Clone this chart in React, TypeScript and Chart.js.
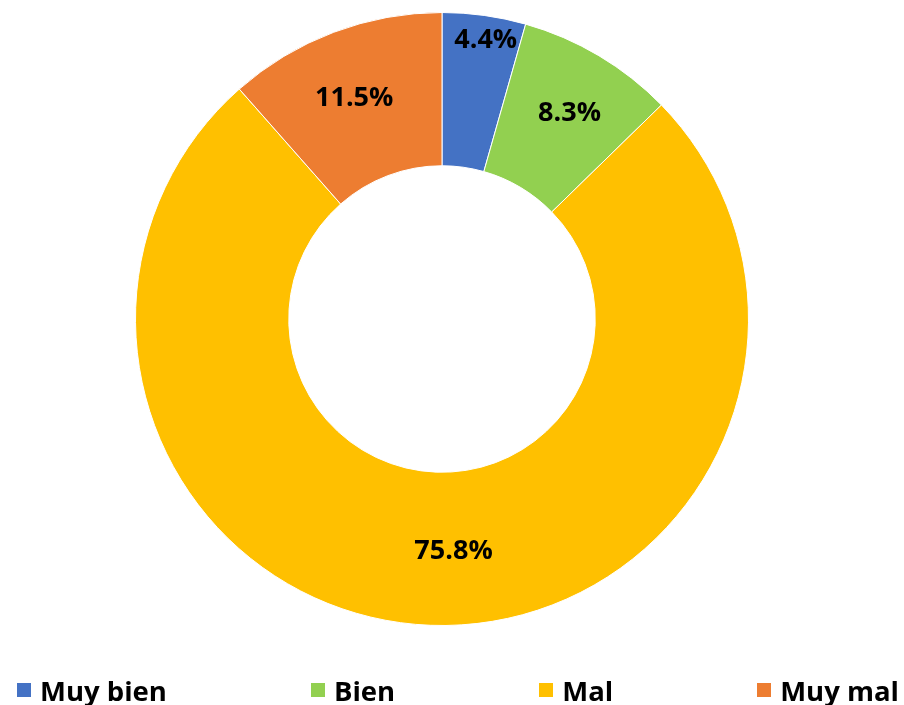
import React, { useEffect, useRef } from "react";
import { Chart, registerables } from "chart.js";

Chart.register(...registerables);

const categories = ["Muy bien", "Bien", "Mal", "Muy mal"];
const values = [4.4, 8.3, 75.8, 11.5];
const colors = ["#4472C4", "#92D050", "#FFC000", "#ED7D31"];

const FONT = "'Open Sans', sans-serif";

// label placement inside the ring: radial fraction and small angular nudge (deg)
const labelRadial = [0.84, 0.58, 0.52, 0.55];
const labelNudge = [1, 1, -5, -1];

const labelPlugin = {
  id: "sliceLabels",
  afterDatasetsDraw(chart: any) {
    const ctx = chart.ctx;
    const meta = chart.getDatasetMeta(0);
    ctx.save();
    ctx.font = `bold 27px ${FONT}`;
    ctx.fillStyle = "#000";
    ctx.textAlign = "center";
    ctx.textBaseline = "middle";
    meta.data.forEach((arc: any, i: number) => {
      const { x, y, startAngle, endAngle, innerRadius, outerRadius } = arc.getProps(
        ["x", "y", "startAngle", "endAngle", "innerRadius", "outerRadius"],
        true
      );
      const mid = (startAngle + endAngle) / 2 + (labelNudge[i] * Math.PI) / 180;
      const r = innerRadius + (outerRadius - innerRadius) * labelRadial[i];
      const lx = x + Math.cos(mid) * r;
      const ly = y + Math.sin(mid) * r;
      ctx.fillText(values[i].toFixed(1) + "%", lx, ly);
    });
    ctx.restore();
  },
};

export default function App() {
  const ref = useRef<HTMLCanvasElement>(null);
  useEffect(() => {
    document.body.style.margin = "0";
    const chart = new Chart(ref.current!, {
      type: "doughnut",
      data: {
        labels: categories,
        datasets: [
          {
            data: values,
            backgroundColor: colors,
            borderColor: "#ffffff",
            borderWidth: 1,
          },
        ],
      },
      options: {
        responsive: false,
        animation: false,
        cutout: "50%",
        layout: { padding: { top: 12, bottom: 79, left: 0, right: 20 } },
        plugins: {
          legend: { display: false },
          tooltip: { enabled: false },
        },
      },
      plugins: [labelPlugin],
    });
    return () => chart.destroy();
  }, []);

  return (
    <div style={{ position: "relative", width: 904, height: 705, background: "#fff" }}>
      <canvas ref={ref} width={904} height={705} style={{ display: "block" }} />
      <div
        style={{
          position: "absolute",
          left: 17,
          right: 5,
          top: 672,
          height: 36,
          display: "flex",
          justifyContent: "space-between",
          alignItems: "center",
          fontFamily: FONT,
          fontWeight: 700,
          fontSize: 27.5,
          color: "#000",
        }}
      >
        {categories.map((c, i) => (
          <div key={c} style={{ display: "flex", alignItems: "center", whiteSpace: "nowrap" }}>
            <span
              style={{
                display: "inline-block",
                width: 14,
                height: 14,
                background: colors[i],
                marginRight: 9,
              }}
            />
            <span>{c}</span>
          </div>
        ))}
      </div>
    </div>
  );
}
